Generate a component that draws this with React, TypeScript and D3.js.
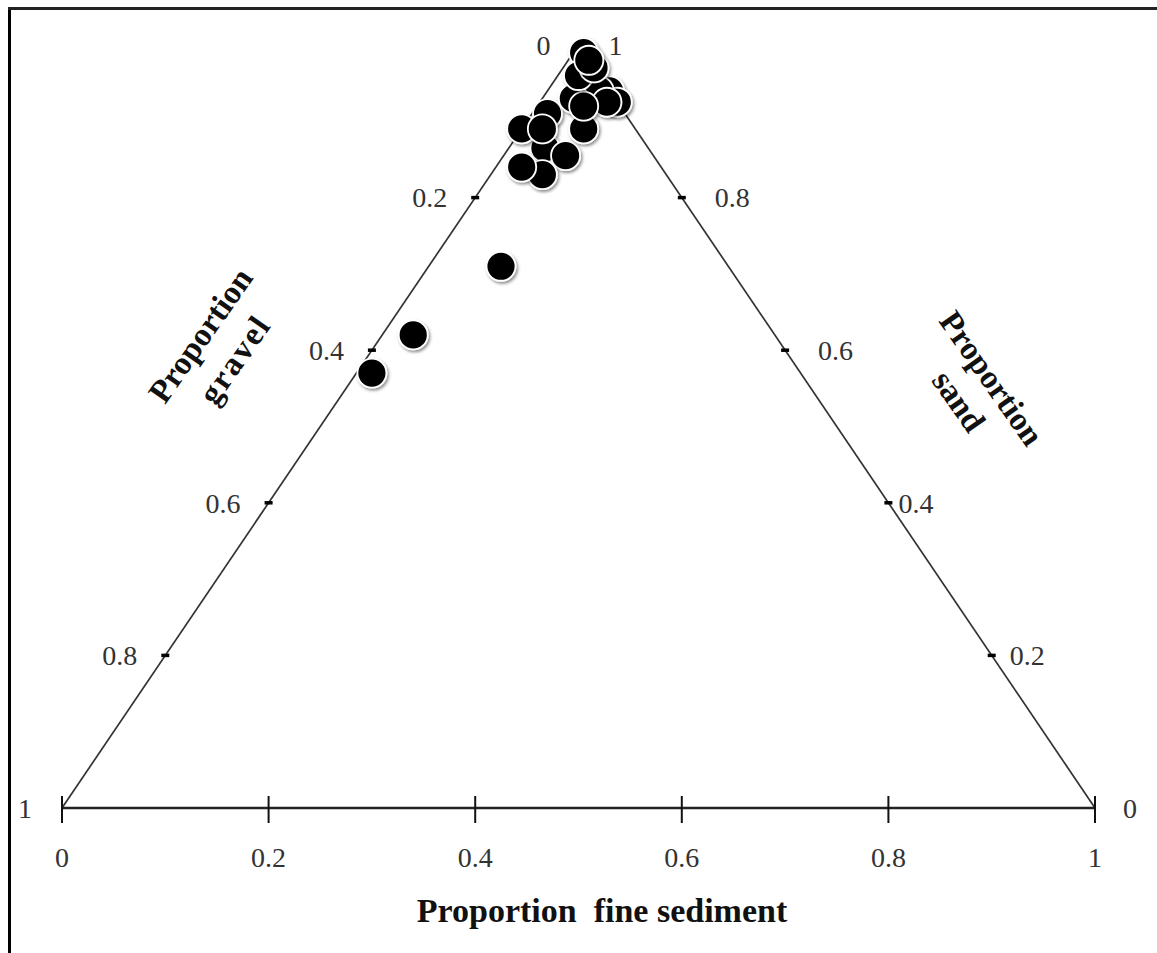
import React from "react";
import * as d3 from "d3";

// Sample composition (proportions of gravel, sand and fine sediment)
const gravel = [0.075, 0.1, 0.085, 0.12, 0.135, 0.11, 0.09, 0.05, 0.0, 0.0, 0.01, 0.01, 0.04, 0.035, 0.0, 0.02, 0.0, 0.0, 0.22, 0.35, 0.415];
const sand = [0.91, 0.865, 0.855, 0.83, 0.84, 0.89, 0.89, 0.89, 0.94, 0.925, 0.94, 0.925, 0.93, 0.92, 0.99, 0.96, 0.97, 0.98, 0.71, 0.62, 0.57];
const fine = [0.015, 0.035, 0.06, 0.05, 0.025, 0.0, 0.02, 0.06, 0.06, 0.075, 0.05, 0.065, 0.03, 0.045, 0.01, 0.02, 0.03, 0.02, 0.07, 0.03, 0.015];

const bottomTicks = [0, 0.2, 0.4, 0.6, 0.8, 1];
const bottomTickLabels = ["0", "0.2", "0.4", "0.6", "0.8", "1"];
const gravelTicks = [0.2, 0.4, 0.6, 0.8];
const gravelTickLabels = ["0.2", "0.4", "0.6", "0.8"];
const sandTicks = [0.8, 0.6, 0.4, 0.2];
const sandTickLabels = ["0.8", "0.6", "0.4", "0.2"];

const W = 1157;
const H = 953;
const serif = "'Liberation Serif', 'Times New Roman', serif";

export default function App() {
  // horizontal position along the base, vertical position by sand proportion
  const x = d3.scaleLinear().domain([0, 1]).range([62, 1095]);
  const y = d3.scaleLinear().domain([0, 1]).range([808, 45]);

  const pos = (g: number, s: number, f: number): [number, number] => {
    const tot = g + s + f;
    const ss = s / tot;
    const ff = f / tot;
    return [x(ff + ss / 2), y(ss)];
  };

  const bl = pos(1, 0, 0);
  const top = pos(0, 1, 0);
  const br = pos(0, 0, 1);

  const points = gravel.map((g, i) => pos(g, sand[i], fine[i]));

  // gap between the right-side tick and its label (lower labels sit closer)
  const sandGap = (t: number) => (t >= 0.6 ? 33 : t >= 0.4 ? 10 : 18);

  return (
    <svg
      width={W}
      height={H}
      style={{ position: "absolute", left: 0, top: 0, background: "#fff" }}
    >
      <defs>
        <filter id="halo" x="-50%" y="-50%" width="200%" height="200%">
          <feDropShadow dx="1.5" dy="2" stdDeviation="1.8" floodColor="#000" floodOpacity="0.45" />
        </filter>
      </defs>

      {/* frame */}
      <line x1={9.5} y1={8} x2={9.5} y2={H} stroke="#000" strokeWidth={3} />
      <line x1={8} y1={8.5} x2={W} y2={8.5} stroke="#222" strokeWidth={3} />

      {/* triangle sides */}
      <line x1={bl[0]} y1={bl[1]} x2={top[0]} y2={top[1]} stroke="#333" strokeWidth={1.7} />
      <line x1={top[0]} y1={top[1]} x2={br[0]} y2={br[1]} stroke="#333" strokeWidth={1.7} />
      <line x1={bl[0]} y1={bl[1]} x2={br[0]} y2={br[1]} stroke="#222" strokeWidth={2.6} />

      {/* base ticks and labels (fine sediment) */}
      {bottomTicks.map((t, i) => (
        <g key={"b" + i}>
          <line x1={x(t)} y1={796} x2={x(t)} y2={823} stroke="#111" strokeWidth={2} />
          <text x={x(t)} y={867} textAnchor="middle" fontFamily={serif} fontSize={28} fill="#333">
            {bottomTickLabels[i]}
          </text>
        </g>
      ))}

      {/* left side ticks (gravel) */}
      {gravelTicks.map((t, i) => {
        const [px, py] = pos(t, 1 - t, 0);
        return (
          <g key={"g" + i}>
            <line x1={px - 4} y1={py} x2={px + 4} y2={py} stroke="#000" strokeWidth={3.5} />
            <text x={px - 28} y={py} dy="0.35em" textAnchor="end" fontFamily={serif} fontSize={28} fill="#333">
              {gravelTickLabels[i]}
            </text>
          </g>
        );
      })}
      <text x={top[0] - 28} y={top[1]} dy="0.35em" textAnchor="end" fontFamily={serif} fontSize={28} fill="#333">0</text>
      <text x={bl[0] - 30} y={bl[1]} dy="0.35em" textAnchor="end" fontFamily={serif} fontSize={28} fill="#333">1</text>

      {/* right side ticks (sand) */}
      {sandTicks.map((t, i) => {
        const [px, py] = pos(0, t, 1 - t);
        return (
          <g key={"s" + i}>
            <line x1={px - 4} y1={py} x2={px + 4} y2={py} stroke="#000" strokeWidth={3.5} />
            <text x={px + sandGap(t)} y={py} dy="0.35em" textAnchor="start" fontFamily={serif} fontSize={28} fill="#333">
              {sandTickLabels[i]}
            </text>
          </g>
        );
      })}
      <text x={top[0] + 30} y={top[1]} dy="0.35em" textAnchor="start" fontFamily={serif} fontSize={28} fill="#333">1</text>
      <text x={br[0] + 28} y={br[1]} dy="0.35em" textAnchor="start" fontFamily={serif} fontSize={28} fill="#333">0</text>

      {/* axis titles */}
      <text x={602} y={922} textAnchor="middle" fontFamily={serif} fontSize={34} fontWeight="bold" fill="#111" style={{ whiteSpace: "pre" }}>
        {"Proportion  fine sediment"}
      </text>
      <g transform="translate(200,335) rotate(-55)" fontFamily={serif} fontSize={33} fontWeight="bold" fill="#111">
        <text x={0} y={0} dy="0.35em" textAnchor="middle">Proportion</text>
        <text x={0} y={42} dy="0.35em" textAnchor="middle" letterSpacing={2}>gravel</text>
      </g>
      <g transform="translate(992,378) rotate(55)" fontFamily={serif} fontSize={33} fontWeight="bold" fill="#111">
        <text x={0} y={0} dy="0.35em" textAnchor="middle">Proportion</text>
        <text x={0} y={40} dy="0.35em" textAnchor="middle">sand</text>
      </g>

      {/* samples */}
      {points.map(([px, py], i) => (
        <circle key={"p" + i} cx={px} cy={py} r={14.5} fill="#000" stroke="#fff" strokeWidth={1.8} filter="url(#halo)" />
      ))}
    </svg>
  );
}
